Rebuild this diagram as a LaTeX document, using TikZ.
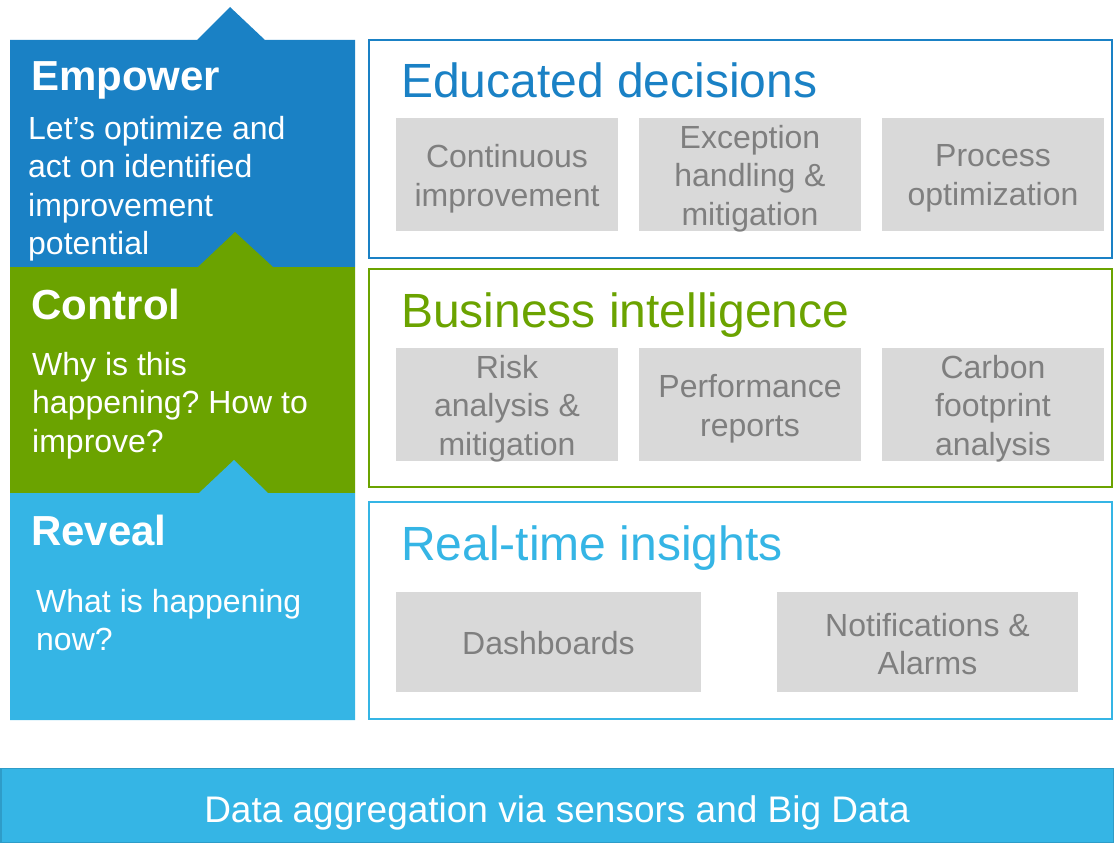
\documentclass[tikz,border=0pt]{standalone}
\usepackage{fontspec}
\setmainfont{Liberation Sans}
\frenchspacing
\definecolor{cBlue}{HTML}{1A81C5}
\definecolor{cGreen}{HTML}{6BA300}
\definecolor{cLight}{HTML}{35B5E5}
\definecolor{cLightEdge}{HTML}{2E9CC8}
\definecolor{cGray}{HTML}{D9D9D9}
\definecolor{cGrayText}{HTML}{7F7F7F}
\tikzset{
  lefttitle/.style={text=white, inner sep=0pt, anchor=base west, font=\fontsize{42}{48}\selectfont\bfseries},
  leftbody/.style={text=white, inner sep=0pt, anchor=west, align=left, font=\fontsize{32}{38.5}\selectfont},
  righttitle/.style={inner sep=0pt, anchor=base west, font=\fontsize{48}{56}\selectfont},
  frame/.style={line width=2pt, fill=white},
  graybox/.style={fill=cGray, draw=none, inner sep=0pt},
  graytext/.style={text=cGrayText, align=center, inner sep=0pt, font=\fontsize{32}{38.5}\selectfont},
}
\begin{document}
\begin{tikzpicture}[x=1pt,y=-1pt]
\useasboundingbox (0,0) rectangle (1114,843);
% left stacked panels
\fill[cBlue] (10,40) -- (197,40) -- (230,7) -- (265,40) -- (355,40) -- (355,267) -- (10,267) -- cycle;
\fill[cGreen] (10,267) -- (198,267) -- (235,232) -- (273,267) -- (355,267) -- (355,493) -- (10,493) -- cycle;
\fill[cLight] (10,493) -- (199,493) -- (234,460) -- (268,493) -- (355,493) -- (355,720) -- (10,720) -- cycle;
\node[lefttitle] (empT) at (31,91) {Empower};
\node[leftbody] (empB) at (28,188.5) {Let’s optimize and\\act on identified\\improvement\\potential};
\node[lefttitle] (conT) at (31,319) {Control};
\node[leftbody] (conB) at (32,405.5) {Why is this\\happening? How to\\improve?};
\node[lefttitle] (revT) at (31,545) {Reveal};
\node[leftbody] (revB) at (36,620) {What is happening\\now?};
% right frames
\draw[frame, draw=cBlue] (369,40) rectangle (1112,258);
\draw[frame, draw=cGreen] (369,269) rectangle (1112,487);
\draw[frame, draw=cLight] (369,502) rectangle (1112,719);
\node[righttitle, text=cBlue] (edT) at (401,97) {Educated decisions};
\node[righttitle, text=cGreen] (biT) at (401,327) {Business intelligence};
\node[righttitle, text=cLight] (rtT) at (401,560) {Real-time insights};
% gray boxes row 1
\node[graybox, minimum width=222pt, minimum height=113pt] (g11) at (507,174.5) {};
\node[graybox, minimum width=222pt, minimum height=113pt] (g12) at (750,174.5) {};
\node[graybox, minimum width=222pt, minimum height=113pt] (g13) at (993,174.5) {};
\node[graytext, yshift=-4pt] (t11) at (g11) {Continuous\\improvement};
\node[graytext, yshift=-4pt] (t12) at (g12) {Exception\\handling \&\\mitigation};
\node[graytext, yshift=-4pt] (t13) at (g13) {Process\\optimization};
% row 2
\node[graybox, minimum width=222pt, minimum height=113pt] (g21) at (507,404.5) {};
\node[graybox, minimum width=222pt, minimum height=113pt] (g22) at (750,404.5) {};
\node[graybox, minimum width=222pt, minimum height=113pt] (g23) at (993,404.5) {};
\node[graytext, yshift=-4pt] (t21) at (g21) {Risk\\analysis \&\\mitigation};
\node[graytext, yshift=-4pt] (t22) at (g22) {Performance\\reports};
\node[graytext, yshift=-4pt] (t23) at (g23) {Carbon\\footprint\\analysis};
% row 3
\node[graybox, minimum width=305pt, minimum height=100pt] (g31) at (548.5,642) {};
\node[graybox, minimum width=301pt, minimum height=100pt] (g32) at (927.5,642) {};
\node[graytext, yshift=-1.5pt] (t31) at (g31) {Dashboards};
\node[graytext, yshift=-2pt] (t32) at (g32) {Notifications \&\\Alarms};
% bottom bar
\node[fill=cLight, draw=cLightEdge, line width=1.5pt, minimum width=1112.5pt, minimum height=74pt, inner sep=0pt,
  text height=35pt, text depth=2pt,
  text=white, font=\fontsize{37}{44}\selectfont] (bar) at (557,805.5) {Data aggregation via sensors and Big Data};
\end{tikzpicture}
\end{document}
